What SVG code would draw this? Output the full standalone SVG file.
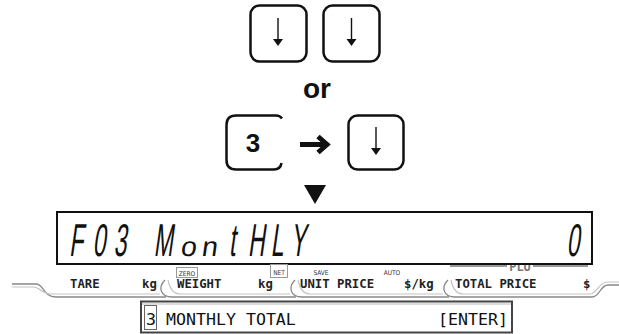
<svg xmlns="http://www.w3.org/2000/svg" width="619" height="334" viewBox="0 0 619 334">
<style>
.key{fill:#fff;stroke:#111;stroke-width:2.5}
.stem{stroke:#111;stroke-width:1.4;fill:none}
.head{fill:#111}
.big{font-family:"Liberation Sans",Arial,sans-serif;font-weight:bold;fill:#111}
.lcd{font-family:"Liberation Sans",Arial,sans-serif;fill:#111}
.lbl{font-family:"DejaVu Sans Mono",monospace;font-weight:bold;font-size:12.3px;fill:#222}
.tiny{font-family:"DejaVu Sans Condensed","DejaVu Sans",sans-serif;font-size:6.5px;fill:#333}
.tab{fill:none;stroke:#888;stroke-width:1.3}
.tab2{fill:none;stroke:#c4c4c4;stroke-width:1.2}
.mono{font-family:"DejaVu Sans Mono","Liberation Mono",monospace;font-size:16.6px;fill:#111}
</style>
<rect width="619" height="334" fill="#fff"/>

<g id="key-down-1">
<rect class="key" x="250.5" y="5.5" width="56" height="56" rx="9"/>
<line class="stem" x1="278" y1="18" x2="278" y2="41"/>
<polygon class="head" points="273,39 283,39 278,46"/>
</g>
<g id="key-down-2">
<rect class="key" x="323.5" y="5.5" width="56" height="56" rx="9"/>
<line class="stem" x1="351.5" y1="18" x2="351.5" y2="41"/>
<polygon class="head" points="346.5,39 356.5,39 351.5,46"/>
</g>
<g id="or-label">
<text class="big" x="317" y="98" font-size="28" text-anchor="middle">or</text>
</g>
<g id="key-3">
<path class="key" fill="none" d="M282,118.5 Q280,115.5 276,115.5 L236,115.5 Q226.5,115.5 226.5,125 L226.5,160 Q226.5,169.5 236,169.5 L274,169.5 Q280.5,169.5 281.5,163"/>
<text class="big" x="253" y="152" font-size="26" text-anchor="middle">3</text>
</g>
<g id="key-down-3">
<rect class="key" x="348.5" y="115.5" width="55" height="54" rx="9"/>
<line class="stem" x1="376" y1="127" x2="376" y2="150"/>
<polygon class="head" points="371,148 381,148 376,155"/>
</g>

<g id="connectors">
<line x1="300" y1="144.5" x2="326" y2="144.5" stroke="#111" stroke-width="5"/>
<polyline points="318,136.5 327,144.5 318,152.5" fill="none" stroke="#111" stroke-width="5" stroke-linejoin="miter"/>
<polygon points="304,185 326,185 315,204" fill="#111"/>
</g>

<g id="plu">
<rect x="450" y="264.5" width="57" height="2.5" fill="#999"/>
<rect x="533" y="264.5" width="55" height="2.5" fill="#999"/>
<text x="520" y="271" text-anchor="middle" font-family="DejaVu Sans Mono,monospace" font-weight="bold" font-size="12" fill="#777">PLU</text>
</g>

<g id="lcd-display">
<rect x="57" y="212" width="535" height="52" fill="#fff" stroke="#111" stroke-width="2"/>
<g transform="translate(0,256) skewX(-8) scale(0.5,1)">
<text class="lcd" y="0" font-size="46" text-anchor="middle" x="152 198 240 282 326">F03 M</text>
<text class="lcd" y="0" font-size="46" text-anchor="middle" x="464 512 554 596">tHLY</text>
<text class="lcd" x="1146" y="0" font-size="46" text-anchor="middle">0</text>
</g>
<g transform="translate(0,256) skewX(-8) scale(0.62,0.6)">
<text class="lcd" y="0" font-size="46" text-anchor="middle" x="303 337">on</text>
</g>
</g>

<g id="status-bar">
<path class="tab" d="M12,284 L36,284 C44,284 43,297 56,297 L166,297"/>
<path class="tab2" d="M12,287 L34,287 C40,287 41,294 52,294 L160,294"/>
<path class="tab" d="M165,280 C158,287 160,297 172,297 L296,297"/>
<path class="tab2" d="M168,280 Q171,294 180,294 L290,294"/>
<path class="tab" d="M295,280 C288,287 290,297 302,297 L449,297"/>
<path class="tab2" d="M298,280 Q301,294 310,294 L443,294"/>
<path class="tab" d="M448,280 C441,287 443,297 455,297 L592,297 C600,297 600,285 608,285 L619,285"/>
<path class="tab2" d="M451,280 Q454,294 463,294 L590,294 C597,294 599,282 607,282 L619,282"/>
<text class="lbl" x="70" y="288">TARE</text>
<text class="lbl" x="142" y="288">kg</text>
<text class="lbl" x="177" y="288">WEIGHT</text>
<text class="lbl" x="258" y="288">kg</text>
<text class="lbl" x="300" y="288">UNIT PRICE</text>
<text class="lbl" x="404" y="288">$/kg</text>
<text class="lbl" x="455" y="288">TOTAL PRICE</text>
<text class="lbl" x="583" y="288">$</text>
<rect x="176.5" y="267.5" width="21" height="10" fill="none" stroke="#999" stroke-width="1"/>
<text class="tiny" x="187" y="275.5" text-anchor="middle">ZERO</text>
<rect x="270.5" y="264.5" width="17" height="13" fill="none" stroke="#999" stroke-width="1"/>
<text class="tiny" x="279" y="274.5" text-anchor="middle">NET</text>
<text class="tiny" x="321" y="275" text-anchor="middle">SAVE</text>
<text class="tiny" x="392" y="275" text-anchor="middle">AUTO</text>
</g>

<g id="prompt-box">
<rect x="141" y="301.5" width="371" height="31" fill="#fff" stroke="#444" stroke-width="2"/>
<line x1="142" y1="304" x2="511" y2="304" stroke="#bbb" stroke-width="1"/>
<rect x="144.5" y="305.5" width="12" height="24" fill="none" stroke="#666" stroke-width="1"/>
<text class="mono" x="146" y="325">3 MONTHLY TOTAL</text>
<text class="mono" x="438" y="325">[ENTER]</text>
</g>
</svg>
